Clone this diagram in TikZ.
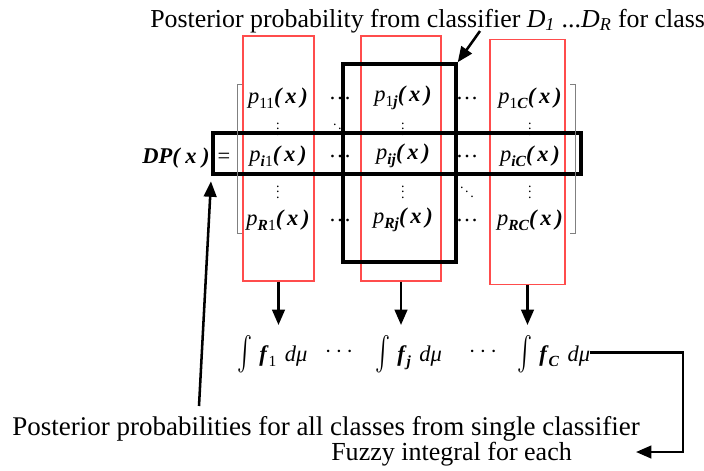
\documentclass[tikz,border=0pt]{standalone}
\usepackage{fontspec}
\usepackage{graphicx}
\setmainfont{Liberation Serif}
\usetikzlibrary{arrows.meta}
\newcommand{\bi}[1]{\textbf{\textit{#1}}}
\newcommand{\pent}[1]{\textit{p}\raisebox{-0.45ex}{\fontsize{11}{12}\selectfont #1}\bi{(\,x\,)}}
\newcommand{\fint}[1]{\raisebox{-5pt}{\scalebox{1.6}[2.4]{$\int$}}\hspace{5pt}\bi{f}\raisebox{-0.5ex}{\fontsize{11}{12}\selectfont #1}\hspace{6pt}\textit{dμ}}

\begin{document}
\begin{tikzpicture}[x=0.025cm, y=-0.025cm,
    redcol/.style={draw=red!70, line width=0.8pt, minimum height=6.125cm},
    blackbox/.style={draw, line width=2.4pt},
    ent/.style={font=\fontsize{16}{18}\selectfont, inner sep=0pt},
    dots/.style={font=\fontsize{10}{12}\selectfont, inner sep=0pt},
    txt/.style={inner sep=0pt},
    bigarr/.style={line width=1.8pt, -{Triangle[length=11pt,width=9pt]}}]
    \useasboundingbox (0,0) rectangle (704,470);

    % column of each class, row of one classifier
    \node[redcol, minimum width=1.775cm] (col1) at (278.5,158.5) {};
    \node[redcol, minimum width=2.0cm] (col2) at (401,158.5) {};
    \node[redcol, minimum width=1.875cm] (col3) at (527.5,162) {};
    \node[blackbox, minimum width=2.825cm, minimum height=4.95cm] (colj) at (399.5,163) {};
    \node[blackbox, minimum width=9.2cm, minimum height=1.025cm] (rowi) at (397,153.5) {};

    % matrix brackets
    \draw[gray, line width=0.5pt] (242,84) -- (237,84) -- (237,233) -- (242,233);
    \draw[gray, line width=0.5pt] (570,84) -- (575,84) -- (575,233) -- (570,233);

    \node[ent] (dp) at (176,158) {\bi{DP( x )}};
    \node[ent] (eq) at (224,158) {=};

    \node[ent] (p11) at (278,98) {\pent{11}};
    \node[ent] (h11) at (340,98) {\ldots};
    \node[ent] (p1j) at (403,98) {\pent{1\bi{j}}};
    \node[ent] (h12) at (467,98) {\ldots};
    \node[ent] (p1C) at (530,98) {\pent{1\bi{C}}};

    \node[dots] (v11) at (278,125) {$\vdots$};
    \node[dots] (d1) at (340,125) {$\ddots$};
    \node[dots] (v12) at (403,125) {$\vdots$};
    \node[dots] (v13) at (530,125) {$\vdots$};

    \node[ent] (pi1) at (278,156) {\pent{\bi{i}1}};
    \node[ent] (hi1) at (340,156) {\ldots};
    \node[ent] (pij) at (403,156) {\pent{\bi{ij}}};
    \node[ent] (hi2) at (467,156) {\ldots};
    \node[ent] (piC) at (530,156) {\pent{\bi{iC}}};

    \node[dots] (v21) at (278,188) {$\vdots$};
    \node[dots] (v22) at (403,188) {$\vdots$};
    \node[dots] (d2) at (467,188) {$\ddots$};
    \node[dots] (v23) at (530,188) {$\vdots$};

    \node[ent] (pR1) at (278,220) {\pent{\bi{R}1}};
    \node[ent] (hR1) at (340,220) {\ldots};
    \node[ent] (pRj) at (403,220) {\pent{\bi{Rj}}};
    \node[ent] (hR2) at (467,220) {\ldots};
    \node[ent] (pRC) at (530,220) {\pent{\bi{RC}}};

    % fuzzy integrals
    \node[ent, anchor=west] (int1) at (237,354) {\fint{1}};
    \node[ent] (c1) at (339,352) {$\cdots$};
    \node[ent, anchor=west] (intj) at (375,354) {\fint{\bi{j}}};
    \node[ent] (c2) at (483,352) {$\cdots$};
    \node[ent, anchor=west] (intC) at (517,354) {\fint{\bi{C}}};

    \draw[bigarr] (col1.south) -- (col1.south |- 0,325);
    \draw[bigarr] (col2.south) -- (col2.south |- 0,325);
    \draw[bigarr] (col3.south) -- (col3.south |- 0,325);

    % labels
    \node[txt, anchor=base west, font=\fontsize{18.4}{20}\selectfont] (top) at (150,27) {Posterior probability from classifier \textit{D\textsubscript{1}} ...\textit{D\textsubscript{R}} for class};
    \node[txt, anchor=base west, font=\fontsize{19.2}{21}\selectfont] (single) at (12,435) {Posterior probabilities for all classes from single classifier};
    \node[txt, anchor=base west, font=\fontsize{18.5}{21}\selectfont] (fuzzy) at (331,460) {Fuzzy integral for each};

    \coordinate (tp) at (480,31);
    \coordinate (lt) at (199,406);
    \coordinate (turn) at (683,452);
    \coordinate (fz) at (636,452);
    \draw[bigarr] (tp) -- (colj.north east);
    \draw[bigarr, shorten >=4pt] (lt) -- (rowi.south west);
    \draw[bigarr] ([yshift=1pt]intC.east) -| (turn) -- (fz);
\end{tikzpicture}
\end{document}
